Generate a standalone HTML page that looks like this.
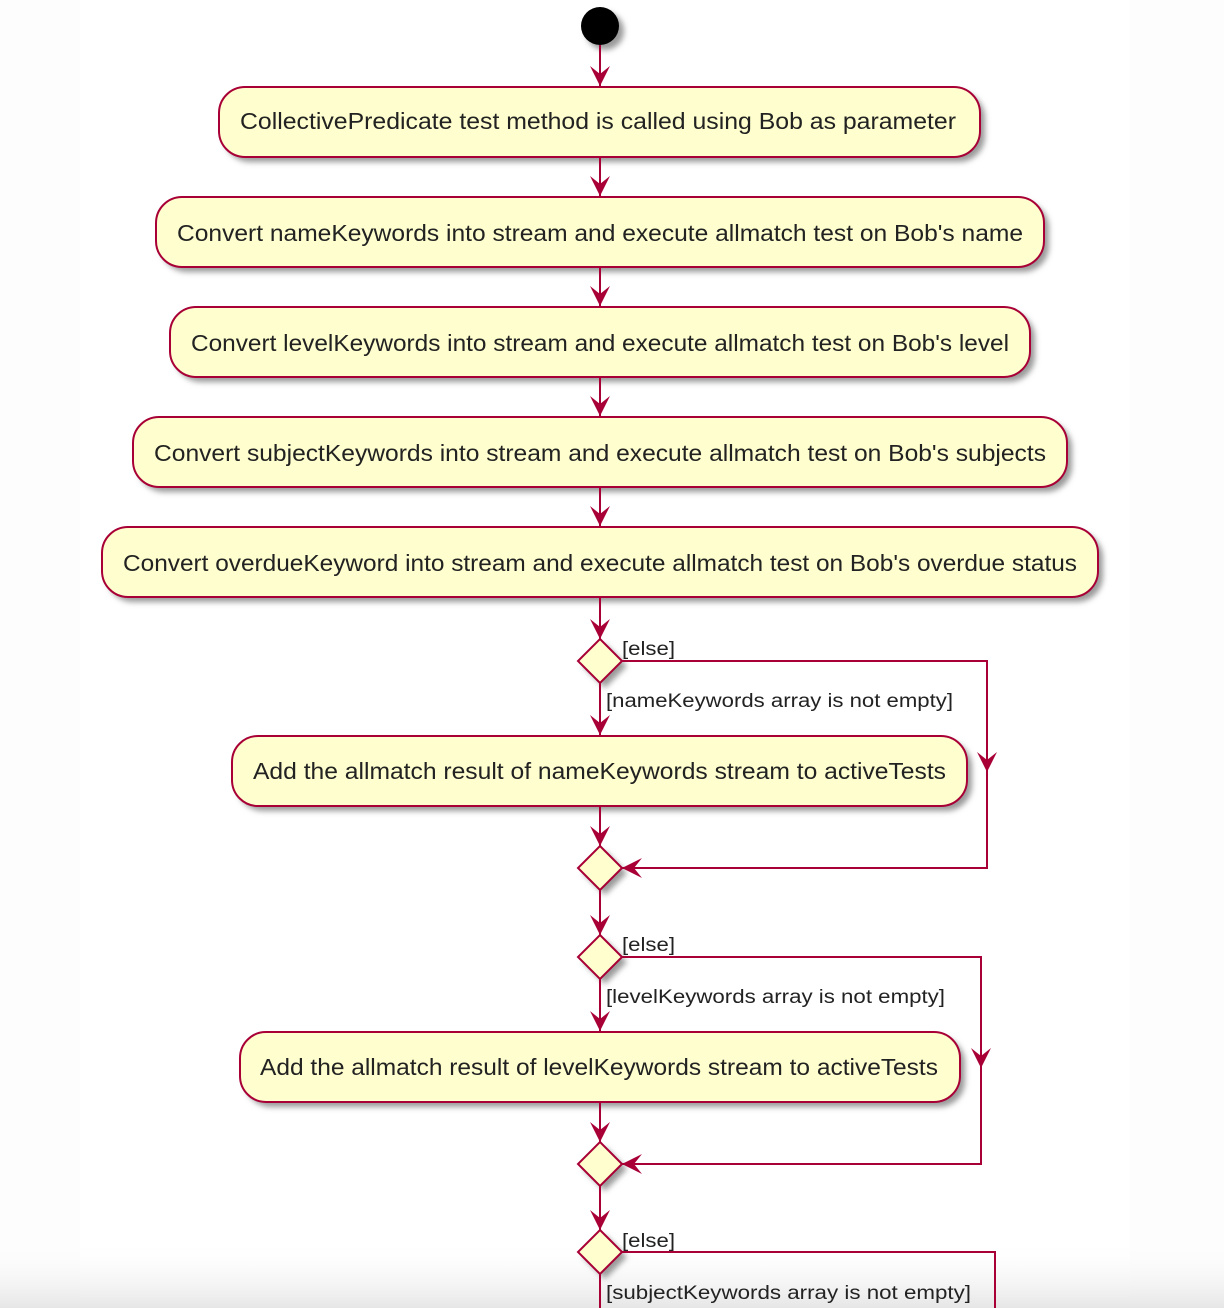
<!DOCTYPE html>
<html><head><meta charset="utf-8"><style>
html,body{margin:0;padding:0;background:#fff}
svg{display:block}
text{font-family:"Liberation Sans",sans-serif;fill:#222}
</style></head><body>
<svg width="1224" height="1308" viewBox="0 0 1224 1308" xmlns="http://www.w3.org/2000/svg">
<defs>
<linearGradient id="bot" x1="0" y1="0" x2="0" y2="1"><stop offset="0" stop-color="#fff" stop-opacity="0"/><stop offset="1" stop-color="#e6e6e6"/></linearGradient>
<filter id="sh" x="-10%" y="-20%" width="130%" height="160%"><feGaussianBlur stdDeviation="3"/></filter>
</defs>
<rect x="0" y="0" width="1224" height="1308" fill="#fdfdfd"/>
<rect x="80" y="0" width="1050" height="1308" fill="#ffffff"/>
<rect x="0" y="1240" width="1224" height="68" fill="url(#bot)"/>

<g fill="#9a9a9a" filter="url(#sh)">
<circle cx="605" cy="31" r="19"/>
<rect x="224" y="92" width="761" height="70" rx="26"/>
<rect x="161" y="202" width="888" height="70" rx="26"/>
<rect x="175" y="312" width="860" height="70" rx="26"/>
<rect x="138" y="422" width="934" height="70" rx="26"/>
<rect x="107" y="532" width="996" height="70" rx="26"/>
<rect x="237" y="741" width="735" height="70" rx="26"/>
<rect x="245" y="1037" width="720" height="70" rx="26"/>
<path d="M605 644 l22 22 l-22 22 l-22 -22z M605 851 l22 22 l-22 22 l-22 -22z M605 940 l22 22 l-22 22 l-22 -22z M605 1147 l22 22 l-22 22 l-22 -22z M605 1235 l22 22 l-22 22 l-22 -22z"/>
</g>

<circle cx="600" cy="26" r="19" fill="#000"/>

<g stroke="#A80036" stroke-width="2" fill="none">
<line x1="600" y1="45" x2="600" y2="86"/>
<line x1="600" y1="157" x2="600" y2="196"/>
<line x1="600" y1="267" x2="600" y2="306"/>
<line x1="600" y1="377" x2="600" y2="416"/>
<line x1="600" y1="487" x2="600" y2="526"/>
<line x1="600" y1="597" x2="600" y2="639"/>
<line x1="600" y1="683" x2="600" y2="735"/>
<line x1="600" y1="806" x2="600" y2="846"/>
<line x1="600" y1="890" x2="600" y2="935"/>
<line x1="600" y1="979" x2="600" y2="1031"/>
<line x1="600" y1="1102" x2="600" y2="1142"/>
<line x1="600" y1="1186" x2="600" y2="1230"/>
<line x1="600" y1="1274" x2="600" y2="1310"/>
<polyline points="622,661 987,661 987,868 622,868"/>
<polyline points="622,957 981,957 981,1164 622,1164"/>
<polyline points="622,1252 995,1252 995,1310"/>
</g>

<g fill="#A80036">
<path d="M600 86 l-10 -20 l10 8 l10 -8z"/>
<path d="M600 196 l-10 -20 l10 8 l10 -8z"/>
<path d="M600 306 l-10 -20 l10 8 l10 -8z"/>
<path d="M600 416 l-10 -20 l10 8 l10 -8z"/>
<path d="M600 526 l-10 -20 l10 8 l10 -8z"/>
<path d="M600 639 l-10 -20 l10 8 l10 -8z"/>
<path d="M600 735 l-10 -20 l10 8 l10 -8z"/>
<path d="M600 846 l-10 -20 l10 8 l10 -8z"/>
<path d="M600 935 l-10 -20 l10 8 l10 -8z"/>
<path d="M600 1031 l-10 -20 l10 8 l10 -8z"/>
<path d="M600 1142 l-10 -20 l10 8 l10 -8z"/>
<path d="M600 1230 l-10 -20 l10 8 l10 -8z"/>
<path d="M987 772 l-10 -20 l10 8 l10 -8z"/>
<path d="M981 1068 l-10 -20 l10 8 l10 -8z"/>
<path d="M622 868 l20 -10 l-8 10 l8 10z"/>
<path d="M622 1164 l20 -10 l-8 10 l8 10z"/>
</g>

<g fill="#FEFECE" stroke="#A80036" stroke-width="2">
<rect x="219" y="87" width="761" height="70" rx="26"/>
<rect x="156" y="197" width="888" height="70" rx="26"/>
<rect x="170" y="307" width="860" height="70" rx="26"/>
<rect x="133" y="417" width="934" height="70" rx="26"/>
<rect x="102" y="527" width="996" height="70" rx="26"/>
<rect x="232" y="736" width="735" height="70" rx="26"/>
<rect x="240" y="1032" width="720" height="70" rx="26"/>
<path d="M600 639 l22 22 l-22 22 l-22 -22z"/>
<path d="M600 846 l22 22 l-22 22 l-22 -22z"/>
<path d="M600 935 l22 22 l-22 22 l-22 -22z"/>
<path d="M600 1142 l22 22 l-22 22 l-22 -22z"/>
<path d="M600 1230 l22 22 l-22 22 l-22 -22z"/>
</g>

<g font-size="23">
<text x="240" y="129" textLength="716" lengthAdjust="spacingAndGlyphs">CollectivePredicate test method is called using Bob as parameter</text>
<text x="177" y="241" textLength="846" lengthAdjust="spacingAndGlyphs">Convert nameKeywords into stream and execute allmatch test on Bob's name</text>
<text x="191" y="351" textLength="818" lengthAdjust="spacingAndGlyphs">Convert levelKeywords into stream and execute allmatch test on Bob's level</text>
<text x="154" y="461" textLength="892" lengthAdjust="spacingAndGlyphs">Convert subjectKeywords into stream and execute allmatch test on Bob's subjects</text>
<text x="123" y="571" textLength="954" lengthAdjust="spacingAndGlyphs">Convert overdueKeyword into stream and execute allmatch test on Bob's overdue status</text>
<text x="253" y="779" textLength="693" lengthAdjust="spacingAndGlyphs">Add the allmatch result of nameKeywords stream to activeTests</text>
<text x="260" y="1075" textLength="678" lengthAdjust="spacingAndGlyphs">Add the allmatch result of levelKeywords stream to activeTests</text>
</g>
<g font-size="19">
<text x="622" y="655" textLength="53" lengthAdjust="spacingAndGlyphs">[else]</text>
<text x="606" y="707" textLength="347" lengthAdjust="spacingAndGlyphs">[nameKeywords array is not empty]</text>
<text x="622" y="951" textLength="53" lengthAdjust="spacingAndGlyphs">[else]</text>
<text x="606" y="1003" textLength="339" lengthAdjust="spacingAndGlyphs">[levelKeywords array is not empty]</text>
<text x="622" y="1247" textLength="53" lengthAdjust="spacingAndGlyphs">[else]</text>
<text x="606" y="1299" textLength="365" lengthAdjust="spacingAndGlyphs">[subjectKeywords array is not empty]</text>
</g>
</svg>
</body></html>
